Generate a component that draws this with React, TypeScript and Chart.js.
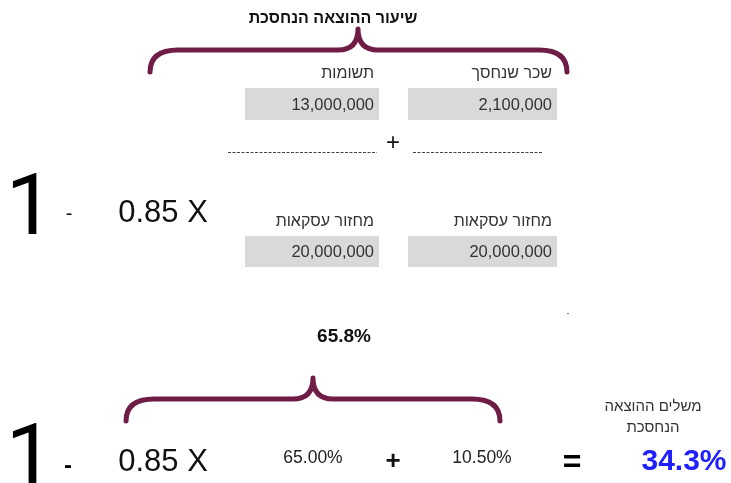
import React, { useEffect, useRef } from "react";
import { Chart, registerables } from "chart.js";

Chart.register(...registerables);

// ---- data ----
const titleText = "שיעור ההוצאה הנחסכת";
const topLabels = ["תשומות", "שכר שנחסך"];
const topValues = [13000000, 2100000];
const bottomLabels = ["מחזור עסקאות", "מחזור עסקאות"];
const bottomValues = [20000000, 20000000];
const factorValue = 0.85;
const ratioTexts = ["65.00%", "10.50%"];
const sumText = "65.8%";
const resultLabel = ["משלים ההוצאה", "הנחסכת"];
const resultText = "34.3%";

const W = 731;
const H = 483;

const FONT = "'Liberation Sans', sans-serif";
const ONE_FONT = "Roboto, 'Liberation Sans', sans-serif";
const BRACE = "#6f1c46";

const fmt = (v: number) => v.toLocaleString("en-US");

const drawPlugin = {
  id: "formulaDraw",
  afterDraw(chart: any) {
    const ctx: CanvasRenderingContext2D = chart.ctx;
    const xs = chart.scales.x;
    const ys = chart.scales.y;
    const X = (v: number) => xs.getPixelForValue(v);
    const Y = (v: number) => ys.getPixelForValue(v);

    const text = (
      s: string,
      x: number,
      y: number,
      size: number,
      opts: {
        bold?: boolean;
        align?: CanvasTextAlign;
        color?: string;
        baseline?: CanvasTextBaseline;
        family?: string;
      } = {}
    ) => {
      ctx.save();
      ctx.font = `${opts.bold ? "bold " : ""}${size}px ${opts.family || FONT}`;
      ctx.fillStyle = opts.color || "#333333";
      ctx.textAlign = opts.align || "center";
      ctx.textBaseline = opts.baseline || "middle";
      ctx.fillText(s, X(x), Y(y));
      ctx.restore();
    };

    const brace = (x0: number, x1: number, xp: number, yTop: number, yH: number, yEnd: number) => {
      ctx.save();
      ctx.strokeStyle = BRACE;
      ctx.lineWidth = 5;
      ctx.lineCap = "round";
      ctx.lineJoin = "round";
      ctx.beginPath();
      ctx.moveTo(X(x0), Y(yEnd));
      ctx.quadraticCurveTo(X(x0), Y(yH), X(x0 + 28), Y(yH));
      ctx.lineTo(X(xp - 20), Y(yH));
      ctx.quadraticCurveTo(X(xp), Y(yH), X(xp), Y(yTop));
      ctx.quadraticCurveTo(X(xp), Y(yH), X(xp + 20), Y(yH));
      ctx.lineTo(X(x1 - 28), Y(yH));
      ctx.quadraticCurveTo(X(x1), Y(yH), X(x1), Y(yEnd));
      ctx.stroke();
      ctx.restore();
    };

    const cell = (x0: number, x1: number, y0: number, y1: number, v: number) => {
      ctx.save();
      ctx.fillStyle = "#d9d9d9";
      ctx.fillRect(X(x0), Y(y0), X(x1) - X(x0), Y(y1) - Y(y0));
      ctx.restore();
      text(fmt(v), x1 - 5, (y0 + y1) / 2 + 1, 16.5, { align: "right" });
    };

    const dashes = (x0: number, x1: number, y: number) => {
      ctx.save();
      ctx.strokeStyle = "#444444";
      ctx.lineWidth = 1;
      ctx.setLineDash([3, 1.5]);
      ctx.beginPath();
      ctx.moveTo(X(x0), Y(y) + 0.5);
      ctx.lineTo(X(x1), Y(y) + 0.5);
      ctx.stroke();
      ctx.restore();
    };

    // ---- top formula ----
    text(titleText, 333, 19, 16, { bold: true, color: "#111" });
    brace(150, 567, 358, 29, 50, 72);

    text(topLabels[0], 374, 74, 16, { align: "right" });
    text(topLabels[1], 552, 74, 16, { align: "right" });
    cell(245, 379, 88, 120, topValues[0]);
    cell(408, 557, 88, 120, topValues[1]);

    dashes(228, 377, 152);
    dashes(413, 543, 152);
    text("+", 393, 143, 24, { color: "#111" });

    text("1", 30, 234, 86, { color: "#000", baseline: "alphabetic", family: ONE_FONT });
    text("-", 69, 214, 20, { color: "#111" });
    text(`${factorValue.toFixed(2)} X`, 163, 213, 31, { color: "#111" });

    text(bottomLabels[0], 374, 222, 16, { align: "right" });
    text(bottomLabels[1], 552, 222, 16, { align: "right" });
    cell(245, 379, 236, 267, bottomValues[0]);
    cell(408, 557, 236, 267, bottomValues[1]);

    // stray dot
    ctx.save();
    ctx.fillStyle = "#777";
    ctx.fillRect(X(567), Y(313), 2, 1);
    ctx.restore();

    // ---- bottom formula ----
    text(sumText, 344, 337, 19, { bold: true, color: "#111" });
    brace(126, 500, 313, 378, 399, 421);

    text("1", 30, 484, 86, { color: "#000", baseline: "alphabetic", family: ONE_FONT });
    text("-", 68, 466, 24, { bold: true, color: "#000" });
    text(`${factorValue.toFixed(2)} X`, 163, 462, 31, { color: "#111" });
    text(ratioTexts[0], 313, 458, 17.5, { color: "#222" });
    text("+", 393, 462, 26, { bold: true, color: "#111" });
    text(ratioTexts[1], 482, 458, 17.5, { color: "#222" });
    text("=", 572, 463, 32, { bold: true, color: "#000" });

    text(resultLabel[0], 653, 407, 15, { color: "#333" });
    text(resultLabel[1], 653, 428, 15, { color: "#333" });
    text(resultText, 684, 462, 30, { bold: true, color: "#1f1fff" });
  },
};

export default function App() {
  const ref = useRef<HTMLCanvasElement | null>(null);

  useEffect(() => {
    document.body.style.margin = "0";
    if (!ref.current) return;
    const chart = new Chart(ref.current, {
      type: "scatter",
      data: { datasets: [{ data: [], pointRadius: 0 }] },
      options: {
        responsive: false,
        animation: false,
        layout: { padding: 0 },
        plugins: { legend: { display: false }, tooltip: { enabled: false } },
        scales: {
          x: { type: "linear", min: 0, max: W, display: false },
          y: { type: "linear", min: 0, max: H, reverse: true, display: false },
        },
      },
      plugins: [drawPlugin],
    });
    return () => chart.destroy();
  }, []);

  return (
    <div style={{ width: W, height: H, background: "#fff" }}>
      <canvas ref={ref} width={W} height={H} style={{ display: "block" }} />
    </div>
  );
}
